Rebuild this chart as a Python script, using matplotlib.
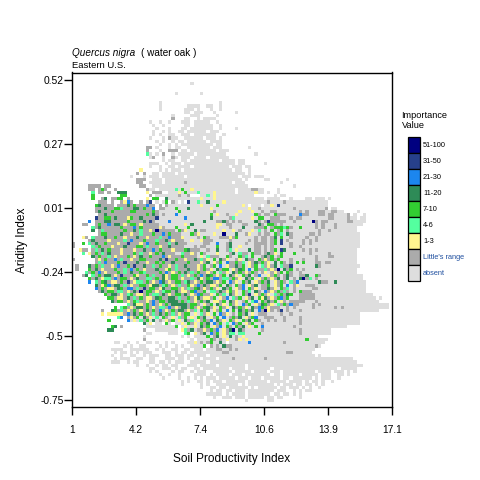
import numpy as np
import matplotlib
matplotlib.use("Agg")
import matplotlib.pyplot as plt
from matplotlib.colors import ListedColormap, BoundaryNorm
from matplotlib.patches import Rectangle

plt.rcParams['font.family'] = ['Liberation Sans', 'DejaVu Sans']

x_ticks = [1, 4.22, 7.44, 10.66, 13.88, 17.1]
x_labels = ['1', '4.2', '7.4', '10.6', '13.9', '17.1']
y_ticks = [0.52, 0.266, 0.012, -0.242, -0.496, -0.75]
y_labels = ['0.52', '0.27', '0.01', '-0.24', '-0.5', '-0.75']

legend_labels = ['51-100', '31-50', '21-30', '11-20', '7-10', '4-6', '1-3', "Little's range", 'absent']
legend_colors = ['#000080', '#27408B', '#1C86EE', '#2E8B57', '#32CD32', '#54FF9F', '#FFF68F', '#ABABAB', '#DEDEDE']

# one character per cell: . none, a absent, l Little's range,
# 1 = 1-3, 2 = 4-6, 3 = 7-10, 4 = 11-20, 5 = 21-30, 6 = 31-50, 7 = 51-100
D = ".........."
cells = [
D+D+D+".......a..",
"", "",
D+D+D+"..a....... a",
"", "",
D+D+".......a.. .......... ......a",
D+D+".......a.. ......aaaa ..aa..a",
D+D+".......a.. .....aaa.a ...a..a",
D+D+D+".....aa.aa a...a..... .a",
D+D+D+".a.....aaa .....a",
D+D+D+".l...aa..a .aaaa",
D+D+"....a..a.. a...aaa.aa aaa..a",
D+D+".....a..a. .....aa.aa aaaa..a",
D+D+"......a... a...aa.aaa aaaa..a... .a",
D+D+".....a..a. a..aa.aaaa aa.aaa",
D+D+".....a.a.. aa..aaa.aa aaaaa..a",
D+D+"....a...a. laa..aaaaa a.aaa.a",
D+D+"......a.a. .a.aa.aaaa aa.aaaa",
D+D+".......a.. a.a.aaaaaa aaaa.aa",
D+D+"...ll.a... a.aa..aaaa aaa.aaa... .....a",
D+D+"...l...a.. lll.aa.aaa aaaaa.aaa",
D+D+"...2a.a.l. .a.aaaaa.a aaaaaaaa.... .....a",
D+D+"....al..a. .la.aaa.aa aa.aaaaaa",
D+D+"........a. aa..aa.aaa aaaaaa.aaa a.aa",
D+D+"....aaa..a .aaa.aaaaa aaaaaaaaaa a.aa...... a",
D+D+"....a..a.. aa.aaaa.aa aaaaaaaaa. aaa.aa",
D+D+".1.....a.a .aaa.aaaaa aaaaaaaaaa .aa..a",
D+D+"l.l..aa.aa aa.aaaaaaa aaaaaaaaaa aaaa.a",
D+"........a. ..a.aaa.aa aaaaa.aaaa aaaaaaaaaa aa.aaa.aaa",
D+D+"lll..aaa.a aaaaaaaaaa aaaaaaaaaa aaa.a..... aa.....a",
D+D+"ll..aaaa.a aaaaalaaaa aaaaaaaaaa .aaa...... .....a",
".....llll. ll........ .ll..aaaaa aaaaaaaaaa aaaaaaaaaa aaaaa..... .........a",
".....ll.l3 l..l...... ...laa.aaa aa2a3aa1aa aaaaaaaaaa a.aaaalla a....a",
"......2.ll .l..444... ...1.lll.. aaa1a3aaa2 aaaa1aaaaa a.aaaaa1aa .a..a.....",
"......3... .....33... ....l.aaaa aaalaal... aa2a1aaaaa aaaaaaa... ...a.aa",
"......3..l 4.ll33.l.. ...1.33..4 aaaaaaaaaa 1aaa1aaaaa aaaaaaaaaa .aaaa...a. ...aa.aaa.a",
"........ll l.l..l15l. .l.l6.a.a3 .la.a.6aa2 aa4aaaa1aa aaaaaaaaaa alaaaalaaa aaaaaaaaaa",
".......34l lll.lll4l3 lll5ll.l.l aaaaaaaaaa 1aaaa3aaaa aaa1a.aaa. aa1a6aaaaa aaaaaaaaaa",
".......lll 4ll332lll4 4l3ll5.lla aa3aaa4aaa aaa1aaaaaa aaaaa1aala aaaaaaaaal aaaaaaaaal .aa.",
".......l4l ll3lllll33 lllll3laaa aaa3aaaaaa aaaalaaaaa aa1aaa1aal aallaaaaaa alalaaalla allaa....a",
"........ll 4lllllllll lll3l4lala aa5aaaaaaa aaa3a1aala a1aaaaa3la lla3lllaaa a5llaaalla llaaaal.a. .a",
".......6ll 33l4lll13l l4llll6aaa aaaaa5aaaa aaa4aaaaal 2aaaaa1a33 aalllaaala llaaaaaaaa llaaaalaa. aa",
".....5.lll 44lllll3ll ll4l6laaaa 5aaaaaaaaa a4aaall4la lalaaaa4la l6lllllaal aaaaa7lall aaaaaallaa aa",
"...ll..l3l l5l44l1l33 l1lllllaaa aaaaa1a4aa aaaaa11all aaallaaa4l a33lalaaaa aaaaaalala aalaaaaaaa a",
"......2l4l lllll3lll5 l3lllll1la aa3aaa3aaa aaaaa1aaal aaa4aaalll 3al33323la a3aaaalala aalaaaaaa",
"......4.l2 llllll3ll4 l2ll1l7lll lla3l1aa4a llaaaaa1aa 1alaaa1a2a la3al3alaa aaaaaaalaa laaaaaaaa",
"........l3 3llll4ll1l l2lll3ll5l 3lllaaa3l1 aaaa1aa7aa a4aal1aala lla3l2a4la aaaallalaa aaaaaaaaaa",
"...1l.2lll 4ll3ll1lll 4ll1lll2ll 5lll1aaaal a3laaalll1 l3aaaaalal lal4a3aala aaalaalaaa aaaaaaaaaa",
".....l4lll l1llll2l5l ll3lll2ll4 l1lllaa1aa 1lllaaaaal aaaaalalal lal3a6alaa aalalalaaa aaaaaaaaaa",
"l..3.2l4ll 3lll1ll6ll l1l5ll3lll 2l4lllaaaa allaa5aal4 aaaalaalll lal3a6aala aalalaaaaa aaaaaaaaaa",
"l.....2l3l ll1lll4lll 33l2lll1ll 4llllaaala llaaa3aal4 aa1aaaalla lalaaaaala alaaaaaaaa aaaaaaaaaa",
"..1ll.l2l4 l3lll1lll1 ll4ll5l3ll l1lll34lll aalaa4aal2 a1aaa4alla lal3a64aaa aalalalaaa aaaaaaaaa",
"...2.1l3l2 l4lll1lll3 l2ll1l3l4l llaa2ll1la 3laaa1aaal 4a2lla3lla l4l1a3aaa3 aaaalaaaaa laaaaaaaa",
"......4l3l l2l1lll3l1 l4ll3lll5l 1lll3lllla 1a2lllaa3l aa3l2a3aal 4l3al3aaaa aaaaaalaaa llaaaaaaa",
"l......l1l 3ll5l2ll1l l33llll4l6 ll3ll1ll4l 2l1a3a4l1a al1a4lla3l 1l3l3aaala aalaaalaaa aaaaaaaaa",
".......l2l 5lll3l6lll 4ll1ll3l3l l4llll3lll 1l4a1l3a5l l3l2a1l4l3 l1a4a3lala 3a3aaallal laaaaaaaa",
".l...4l3l2 ll1l5ll3l6 ll4ll2l3ll 1l2ll4lll1 l3al3a5a1l l4l3a1l3a2 l1l4a2ll6a aaaaaa4laa aaaaaaaaaa",
".l...3l4l1 lll3ll2l5l 3l1lll4ll1 3l2lll4ll1 l3l1a4l33a 1l43a5a3ll 2l1l7a4l3a lalaaaaaaa aaaaaaaaa",
"....2l3l5l 1lll3l2l4l l32llll3l5 l1l3l4l2l3 ll1l3a2l1a 4l3l1l3lal 1al1l3a3la alaaaaaaaa aaaaaaaaa",
"...l4.2l3l 44l1l6lll3 1ll3l2ll41 l33l2l1l3l 5l43l1l3a4 l1a3l4al5a a1l3lal4la all4aa3laa aaaaaaaaaa a",
".....3l4l1 22l5l33l1l 4ll22l3l41 l33l1ll2l4 1l3l55l22l 3l1a4l3a1l 3l1l4al4al a47l2alaaa aaaaaaaaaa a",
".....5.2l3 4l11l3l6l1 22l3l1l54l 1l33l24l1l 3l44l1l3a5 l1a3l4a1l3 l4a1l3la2l 5aaaaaa4ll aa4aaaaaaa aa",
".......4l1 35l44l2l1l l33l144l23 l1l2ll31l5 l4l11l3a4l a3l5a1l4al l3a1l3a5al 1aalllaaaa aaaaaaaaaa aa",
".......5l3 l11l43l55l 2l6l33l14l l33l1l2l34 l1l3l1a4l3 a1l5a3l1al l4l1a3l2al aaaaallaaa aaaaaaaaaa aa",
"........l4 l33l22l1l4 l7l33l1l23 3l4l11l35l l3a22l4l13 l1a3l2a4la 5l1l3l2lal a3lllaaaaa aaaaaaaaaa aa",
D+"3l44l1l23l 11l3l22l4l 1l33l4l1l5 3ll1a3l2a4 l1a3l6a1l3 l1a2l3l43a alllllaaaa aaaaaaaaaa aaaa",
D+".33l11l4l2 l3l11l43ll 44l2ll3l14 l11l3a1l5a 2l3a1l4a31 4l1l35l3aa alllllaaaa aaaaaaaaaa aaaaa.a",
D+"..4l33l1l3 2ll1l5l33l 444l3l2l1l 3l4a11l3a4 l1al3a25a3 l4l3a1lall lllaaalaaa aaaaaaaaaa aaaaaa",
D+".......2l4 11l3l5l1l3 l44444l33l a1l3a4l1a3 l1a5l3a1l4 3l1a2l3l5l laaaalalaa aaaaaaaaaa aaaaaaaaa",
D+"...3.23l1l 44l3l1l22l 5l1l44l3l1 l34l1a3l1a 4l3l1a4l53 l1lllaalal aaaaalaaaa aalalaaaaa aaaaaaaaa",
".........l ..43l2l1l3 l1l4l3l5l1 l3l44l1l2a 3l4a1l3a5a 3a4l3l4a5l 71lal6alaa alaaaaaaaa aaaaaaaaaa aaaaaa",
".........1 .11111l5l4 l3l1l2l4l3 l2l1l33a1a 2l1a3a5l1a la3l4a1all laaaalaala aaaaaaaaaa aaaaaaaaaa",
D+"....25.l1l 3a4l1a2a3l a1a2l3a1a3 l4a1l3a5al 3l4a1l35aa lllaaalaaa alaaaaaaaa aaaaaaaaaa",
D+".3.....5a1 a2l3a4ala1 l3a1a4l2a1 l3l5a4l1a3 l1a3l4a3la alalaalaaa alaaaaaaaa aaaaaaaaaa",
D+D+"..4a1.aa.3 a.aa1a3l1a 3l4a5l3a2a 5l3a1l3aal aaaaaaaaaa alaaaaaaaa aaaaaaaaaa",
D+"..34.l.... ...aaaaaaa aa3.a1aa1a 4l3a1l5a3l a3l4a1a3a5 aaaaaaaaal aaaaaaaaaa aaaaaa",
D+".44....... ..l...aaaa aaa.12l4al l1l3l5a1l4 7a4laaaaal aaaaaaaaaa alaaaaaaaa a",
D+D+"...aa..... aaa..23.1a l4a5l3a1l2 2a22aaaa3a aaaaaaaaaa alaaaaaaaa a",
D+D+"..a....... ....a.a.aa aa3al4a1a4 ala1aaaaaa aaaaaaaaaa aaaaaaa",
D+D+"..l....... .......a.a aaa3lala1a al1a1aaaaa aaaaaaaaaa aaa3aaaaaa",
D+"...aa..a.. a..aa.a..a .a....aa1a lal3aa4a.a aaaaa5aaaa aaaaaalaaa aaaaaaaaa",
D+"......a.a. .aa....a.a ..a.a..aaa a3.lala4ll aaaaaaaaaa aaaaaaaaaa aaaaaala",
D+"..aaaa..aa aaaa..a.a. .aa..aa.aa a.aaallaal alaaaaaaaa aaaaaaaaaa aaaaaa",
D+"...a.aa.a. a.aaa...aa a.a.aa.aaa aaaaaaalla aaaaaaaaaa aaaaaaalla aaaaa",
D+"..a..a..aa ..a.aaa..a a.aaa.aa.a aa.aaaaaaa aaaaaaaaaa aaaaaaaaaa aaaaaa.a",
D+"...a.aaa.. aa..aa...a aa.aa.a.aa .aaaa.aaaa laaaaaaaaa laaaaaaaaa aaaaaaaaaa aaaaaaaa",
D+"..aaa..a.a a...aa.aa. a.aaa..aaa aa.aaaaaaa aaaaaaaaaa aaaaaaaaaa aaaaaaaaaa aaaaaaaaa",
D+D+"a..a..a.aa .aa...aaa. aaaaa.aaaa aaaa.aaaaa aaaaaaaaaa aaaaaaaaaa aaaaaaaaaa a",
D+D+"....aa..aa a.a.aa..aa .aaaaaaaa. aaaa.aaaaa aa.aaaaaaa aaaaaaaaaa aaa.aaaaa",
D+D+"....a.a... .a.aa..a.a aa..aaaaaa .aaaaa.aaa a.aaa.aaaa aaaaaa.aaa a.aaa.a.a",
D+D+".......a.. a..a....aa aa.a.aaaa. aaa.aaaaaa aa.aa.aaaa a.aaaaa.aa a..aa.a",
D+D+"........a. ...a..a.a. a.aaa.aaaa a.aaa.aaa. aaaaa.aa.a aaaaa.a.aa a..a",
D+D+D+"....a.a..a a.a.aaa.aa aaaa.aaaaa a.aaaaa.aa aa.a.aa.a. .a",
D+D+D+"....a..... a.a..aaaaa aa.a.aaaaa aaa.a.aaa. aa.aa.a.a",
D+D+D+D+"a..aa.aa.a aaaaa.a.aa aaaa.aa.aa a.a.a..a",
D+D+D+D+"...a.aa.aa .aaa.aaaaa aaa.aaa..a .a.aa",
D+D+D+D+"..aaaaa.a. aaaa.aaaaa aa.aa.aa.a .a",
D+D+D+D+"....a..aaa .aaa.aaaaa .aa.aa.... .a",
D+D+D+D+D+"....a..... .aa",
]

codes = {'.': np.nan, 'a': 0, 'l': 1, '1': 2, '2': 3, '3': 4, '4': 5, '5': 6, '6': 7, '7': 8}
ncols = 100
grid = np.full((len(cells), ncols), np.nan)
for j, row in enumerate(cells):
    for i, ch in enumerate(row.replace(' ', '')[:ncols]):
        grid[j, i] = codes[ch]

W, H = 480, 480
fig = plt.figure(figsize=(4.8, 4.8), dpi=100, facecolor='white')
L, R, T, B = 72.3, 391.7, 72.5, 407.0
ax = fig.add_axes([L / W, 1 - B / H, (R - L) / W, (B - T) / H])

per_px = 0.254 / 63.9
y_top = 0.52 + (80 - T) * per_px
y_bot = 0.52 - (B - 80) * per_px
y_start = 0.52 - (82 - 80) * per_px
x_edges = np.linspace(1, 17.1, ncols + 1)
y_edges = y_start - 3.2 * per_px * np.arange(len(cells) + 1)

cmap = ListedColormap(legend_colors[::-1])
norm = BoundaryNorm(np.arange(-0.5, 9.5), 9)
ax.pcolormesh(x_edges, y_edges, np.ma.masked_invalid(grid), cmap=cmap, norm=norm, linewidth=0, antialiased=False)

ax.set_xlim(1, 17.1)
ax.set_ylim(y_bot, y_top)
ax.set_xticks(x_ticks)
ax.set_xticklabels(x_labels, fontsize=7.4)
ax.set_yticks(y_ticks)
ax.set_yticklabels(y_labels, fontsize=7.4)
ax.tick_params(axis='both', length=5.8, width=1.0, color='black')
ax.tick_params(axis='x', pad=7)
ax.tick_params(axis='y', pad=0.5)
for s in ax.spines.values():
    s.set_linewidth(1.0)

def T_(x, y, s, **kw):
    kw.setdefault('va', 'center')
    fig.text(x / W, 1 - y / H, s, **kw)

T_(232, 459, 'Soil Productivity Index', fontsize=8.6, ha='center')
T_(22, 240, 'Aridity Index', fontsize=8.6, ha='center', rotation=90)
T_(72.5, 52.5, 'Quercus nigra', fontsize=7.2, style='italic')
T_(141, 52.5, '( water oak )', fontsize=7.2)
T_(72, 65.5, 'Eastern U.S.', fontsize=6.8)
T_(401.5, 115, 'Importance', fontsize=6.6)
T_(401.5, 126, 'Value', fontsize=6.6)

box_h = 16.0
for k, (lab, col) in enumerate(zip(legend_labels, legend_colors)):
    y0 = 137.3 + k * box_h
    fig.add_artist(Rectangle((407.8 / W, 1 - (y0 + box_h) / H), 12.5 / W, box_h / H,
                             transform=fig.transFigure, facecolor=col, edgecolor='black', linewidth=0.9))
    tcol = '#1f4f9f' if k >= 7 else 'black'
    T_(423, y0 + box_h / 2, lab, fontsize=5.3, color=tcol)

fig.savefig('out.png', dpi=100)
